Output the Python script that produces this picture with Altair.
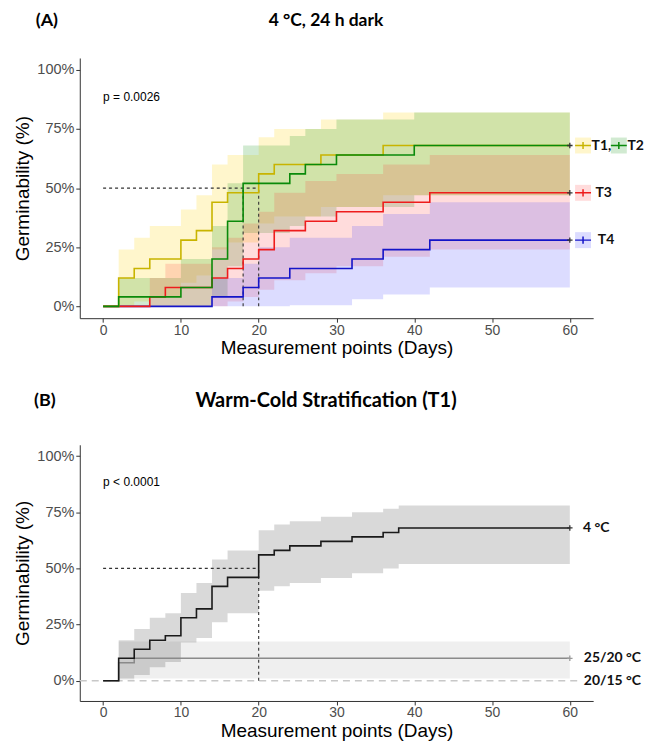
import altair as alt
import pandas as pd

# ---------------- Panel A data (4 °C, 24 h dark) ----------------
A_T1_DAYS = [0, 2, 4, 6, 10, 12, 14, 16, 20, 22, 28, 36, 60]
A_T1_PCT  = [0, 12, 16, 20, 28, 32, 44, 48, 56, 60, 64, 68, 68]
A_T1_LOW  = [0, 0, 2, 4, 10, 13, 24, 27, 35, 38, 42, 47, 47]
A_T1_UP   = [0, 24, 29, 34, 41, 47, 60, 64, 71.5, 75, 79, 82, 82]

A_T2_DAYS = [0, 2, 10, 14, 16, 18, 24, 26, 30, 40, 60]
A_T2_PCT  = [0, 4, 8, 20, 36, 52, 56, 60, 64, 68, 68]
A_T2_LOW  = [0, 0, 0, 4, 17, 31, 34, 38, 42, 47, 47]
A_T2_UP   = [0, 12, 20, 34, 52, 68, 72, 75, 79, 82, 82]

A_T3_DAYS = [0, 6, 8, 14, 16, 18, 20, 22, 26, 30, 36, 42, 60]
A_T3_PCT  = [0, 4, 8, 12, 16, 20, 24, 32, 36, 40, 44, 48, 48]
A_T3_LOW  = [0, 0, 0, 0, 2, 4, 7, 11, 14, 17, 21, 24, 24]
A_T3_UP   = [0, 12, 18, 25, 29, 35, 40, 48, 53, 56, 60, 64, 64]

A_T4_DAYS = [0, 14, 18, 20, 24, 32, 36, 42, 60]
A_T4_PCT  = [0, 4, 8, 12, 16, 20, 24, 28, 28]
A_T4_LOW  = [0, 0, 0, 0, 0.5, 3, 5, 8, 8]
A_T4_UP   = [0, 12, 18, 25, 29, 34, 39, 44, 44]

A_NAMES = ["T1", "T2", "T3", "T4"]
A_MEDIANS = [18, 20]
A_PTEXT = "p = 0.0026"

# ---------------- Panel B data (Warm-Cold Stratification) ----------------
B_4C_DAYS = [0, 2, 4, 6, 8, 10, 12, 14, 16, 20, 22, 24, 28, 32, 36, 38, 60]
B_4C_PCT  = [0, 10, 14, 18, 20, 28, 32, 42, 46, 56, 58, 60, 62, 64, 66, 68, 68]
B_4C_LOW  = [0, 1, 2.6, 6, 8.3, 17, 19, 26, 30, 40, 42, 43.5, 45.7, 47.8, 50, 52, 52]
B_4C_UP   = [0, 18, 23, 28, 30, 39, 43.5, 54, 58, 67, 69.5, 71, 73, 75, 76.5, 78, 78]

B_2520_DAYS = [0, 2, 4, 60]
B_2520_PCT  = [0, 8, 10, 10]
B_2520_LOW  = [0, 0.5, 1, 1]
B_2520_UP   = [0, 17.5, 17.5, 17.5]

B_2015_DAYS = [-3, 61]
B_2015_PCT  = [0, 0]

B_NAMES = ["4 °C", "25/20 °C", "20/15 °C"]
B_MEDIANS = [20]
B_PTEXT = "p < 0.0001"

# ---------------- styling ----------------
FONT = "Liberation Sans"
TFONT = "Lato"
W, HA, HB = 515, 261, 257
XDOM = [-3, 63]
CENSOR = "M0,-1V1M-1,0H1"
KEYSHAPE = "M-1,0H1M0,-0.45V0.45"

X_AXIS = alt.Axis(values=[0, 10, 20, 30, 40, 50, 60], title="Measurement points (Days)",
                  titleFontSize=19, titleFont=FONT, titleFontWeight="normal", titleColor="black",
                  labelFontSize=14, labelFont=FONT, labelColor="#4d4d4d", tickColor="#333333",
                  domainColor="#333333", tickSize=4, grid=False, labelPadding=1, titlePadding=1.5)
Y_AXIS = alt.Axis(values=[0, 25, 50, 75, 100], labelExpr="datum.value + '%'",
                  title="Germinability (%)", titleFontSize=19, titleFont=FONT,
                  titleFontWeight="normal", titleColor="black",
                  labelFontSize=14.5, labelFont=FONT, labelColor="#4d4d4d", tickColor="#333333",
                  domainColor="#333333", tickSize=4, grid=False, labelPadding=2, titlePadding=4)


def step_df(days, pct, low=None, up=None):
    d = {"day": days, "pct": pct}
    if low is not None:
        d["low"] = low
        d["up"] = up
    return pd.DataFrame(d)


def x_enc(field="day"):
    return alt.X(f"{field}:Q", scale=alt.Scale(domain=XDOM, nice=False, zero=False), axis=X_AXIS)


def y_enc(field, ydom):
    return alt.Y(f"{field}:Q", scale=alt.Scale(domain=ydom, nice=False, zero=False), axis=Y_AXIS)


def band(df, color, op, ydom):
    return alt.Chart(df).mark_area(interpolate="step-after", color=color, opacity=op).encode(
        x=x_enc(), y=y_enc("low", ydom), y2="up:Q")


def line(df, color, ydom, width=1.6, dash=None):
    kw = dict(interpolate="step-after", color=color, strokeWidth=width)
    if dash:
        kw["strokeDash"] = dash
    return alt.Chart(df).mark_line(**kw).encode(x=x_enc(), y=y_enc("pct", ydom))


def censor(days, pcts, color, ydom):
    df = pd.DataFrame({"day": days, "pct": pcts})
    return alt.Chart(df).mark_point(shape=CENSOR, size=30, filled=False, color=color,
                                    strokeWidth=1.3, opacity=1).encode(x=x_enc(), y=y_enc("pct", ydom))


def medians(days, ydom):
    h = pd.DataFrame({"day": [0], "day2": [max(days)], "pct": [50], "pct2": [50]})
    v = pd.DataFrame({"day": days, "day2": days, "pct": [0] * len(days), "pct2": [50] * len(days)})
    df = pd.concat([h, v])
    return alt.Chart(df).mark_rule(color="#333333", strokeDash=[3, 3], strokeWidth=1.1).encode(
        x=x_enc(), x2="day2:Q", y=y_enc("pct", ydom), y2="pct2:Q")


def ptext(txt, ydom):
    df = pd.DataFrame({"day": [0], "pct": [88.5], "t": [txt]})
    return alt.Chart(df).mark_text(align="left", baseline="middle", font=FONT, fontSize=12,
                                   color="black").encode(x=x_enc(), y=y_enc("pct", ydom), text="t:N")


def title_text(txt, xpx, ypx, size=18):
    return alt.Chart(pd.DataFrame({"t": [txt]})).mark_text(
        align="center", baseline="middle", font=TFONT, fontSize=size, fontWeight="bold",
        color="black").encode(x=alt.value(xpx), y=alt.value(ypx), text="t:N")


def label(txt, day, pct, ydom, size=14):
    df = pd.DataFrame({"day": [day], "pct": [pct], "t": [txt]})
    return alt.Chart(df).mark_text(align="left", baseline="middle", font=TFONT, fontSize=size,
                                   fontWeight="bold", color="#111111").encode(
        x=x_enc(), y=y_enc("pct", ydom), text="t:N")


def key(day, pct, fill, op, color, ydom):
    df = pd.DataFrame({"day": [day], "pct": [pct]})
    box = alt.Chart(df).mark_square(size=256, color=fill, opacity=op).encode(
        x=x_enc(), y=y_enc("pct", ydom))
    plus = alt.Chart(df).mark_point(shape=KEYSHAPE, size=256, filled=False, color=color,
                                    strokeWidth=1.5, opacity=1).encode(x=x_enc(), y=y_enc("pct", ydom))
    return [box, plus]


# ---------------- Panel A ----------------
YA = [-5, 105]
A_LINE = {"T1": "#C8B400", "T2": "#0A8A0A", "T3": "#EE1C1C", "T4": "#1414C8"}
A_FILL = {"T1": "#FFD400", "T2": "#2E9E2E", "T3": "#FF3030", "T4": "#3030FF"}
A_OP = {"T1": 0.2, "T2": 0.22, "T3": 0.17, "T4": 0.17}

a1 = step_df(A_T1_DAYS, A_T1_PCT, A_T1_LOW, A_T1_UP)
a2 = step_df(A_T2_DAYS, A_T2_PCT, A_T2_LOW, A_T2_UP)
a3 = step_df(A_T3_DAYS, A_T3_PCT, A_T3_LOW, A_T3_UP)
a4 = step_df(A_T4_DAYS, A_T4_PCT, A_T4_LOW, A_T4_UP)
adfs = dict(zip(A_NAMES, [a1, a2, a3, a4]))

layersA = []
for n in ["T1", "T2", "T3", "T4"]:
    layersA.append(band(adfs[n], A_FILL[n], A_OP[n], YA))
layersA.append(medians(A_MEDIANS, YA))
for n in ["T4", "T3", "T1", "T2"]:
    layersA.append(line(adfs[n], A_LINE[n], YA))
layersA.append(censor([60, 60, 60], [A_T2_PCT[-1], A_T3_PCT[-1], A_T4_PCT[-1]], "#333333", YA))
layersA.append(ptext(A_PTEXT, YA))
layersA += key(61.7, A_T1_PCT[-1], A_FILL["T1"], A_OP["T1"], A_LINE["T1"], YA)
layersA.append(label("T1,", 62.8, A_T1_PCT[-1], YA))
layersA += key(66.3, A_T2_PCT[-1], A_FILL["T2"], A_OP["T2"], A_LINE["T2"], YA)
layersA.append(label("T2", 67.4, A_T2_PCT[-1], YA))
layersA += key(61.7, A_T3_PCT[-1], A_FILL["T3"], A_OP["T3"], A_LINE["T3"], YA)
layersA.append(label("T3", 63.3, A_T3_PCT[-1], YA))
layersA += key(61.7, A_T4_PCT[-1], A_FILL["T4"], A_OP["T4"], A_LINE["T4"], YA)
layersA.append(label("T4", 63.6, A_T4_PCT[-1], YA))
layersA.append(title_text("(A)", -33, -37))
layersA.append(title_text("4 °C, 24 h dark", 247, -37, size=17.5))

chartA = alt.layer(*layersA).properties(width=W, height=HA)

# ---------------- Panel B ----------------
YB = [-9, 105]
b1 = step_df(B_4C_DAYS, B_4C_PCT, B_4C_LOW, B_4C_UP)
b2 = step_df(B_2520_DAYS, B_2520_PCT, B_2520_LOW, B_2520_UP)
b3 = step_df(B_2015_DAYS, B_2015_PCT)

layersB = [
    band(b2, "#808080", 0.13, YB),
    band(b1, "#000000", 0.15, YB),
    line(b3, "#C8C8C8", YB, width=1.4, dash=[7, 5]),
    medians(B_MEDIANS, YB),
    line(b2, "#8A8A8A", YB, width=1.5),
    line(b1, "#1A1A1A", YB, width=1.6),
    censor([60], [B_2520_PCT[-1]], "#9A9A9A", YB),
    censor([60], [B_4C_PCT[-1]], "#333333", YB),
    ptext(B_PTEXT, YB),
    label(B_NAMES[0], 61.7, B_4C_PCT[-1], YB),
    label(B_NAMES[1], 61.8, B_2520_PCT[-1], YB),
    label(B_NAMES[2], 61.8, B_2015_PCT[-1], YB),
    title_text("(B)", -35, -44),
    title_text("Warm-Cold Stratification (T1)", 247, -44, size=20),
]
chartB = alt.layer(*layersB).properties(width=W, height=HB)

chart = alt.vconcat(chartA, chartB, spacing=33).properties(
    padding={"left": 5, "top": 3, "right": 0, "bottom": 0}
).configure(font=FONT).configure_view(stroke="transparent", strokeWidth=0)

chart.save("out.html", embed_options={"renderer": "svg", "actions": False})
